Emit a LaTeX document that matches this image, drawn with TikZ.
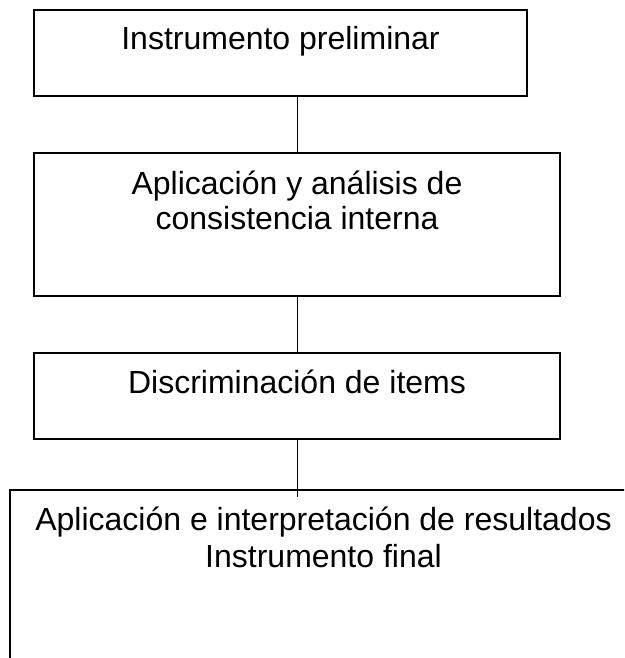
\documentclass[tikz,border=0pt]{standalone}
\usepackage{fontspec}
\setmainfont{Liberation Sans}
\begin{document}
\begin{tikzpicture}[x=1pt,y=-1pt,
  box/.style={draw=black, line width=1.3pt, anchor=north west, inner sep=0pt, outer sep=0pt},
  txt/.style={anchor=base, inner sep=0pt, font=\fontsize{32}{36}\selectfont},
  link/.style={draw=black, line width=0.9pt}]
\useasboundingbox (0,0) rectangle (624,658);
\clip (0,0) rectangle (624,658);
% boxes
\node[box, minimum width=493pt, minimum height=86pt] (b1) at (34,10) {};
\node[box, minimum width=526pt, minimum height=143pt] (b2) at (34,153) {};
\node[box, minimum width=526pt, minimum height=86pt] (b3) at (34,353) {};
\node[box, minimum width=627pt, minimum height=260pt] (b4) at (10,490) {};
\coordinate (e4) at (297,497);
% texts
\node[txt] (t1) at (280.5,50) {Instrumento preliminar};
\node[txt] (t2a) at (297,194) {Aplicación y análisis de};
\node[txt] (t2b) at (297,229) {consistencia interna};
\node[txt] (t3) at (297,393) {Discriminación de items};
\node[txt] (t4a) at (323.5,530) {Aplicación e interpretación de resultados};
\node[txt] (t4b) at (323.5,567) {Instrumento final};
% connectors
\draw[link] (b2.north |- b1.south) -- (b2.north);
\draw[link] (b2.south) -- (b3.north);
\draw[link] (b3.south) -- (e4);
\end{tikzpicture}
\end{document}
